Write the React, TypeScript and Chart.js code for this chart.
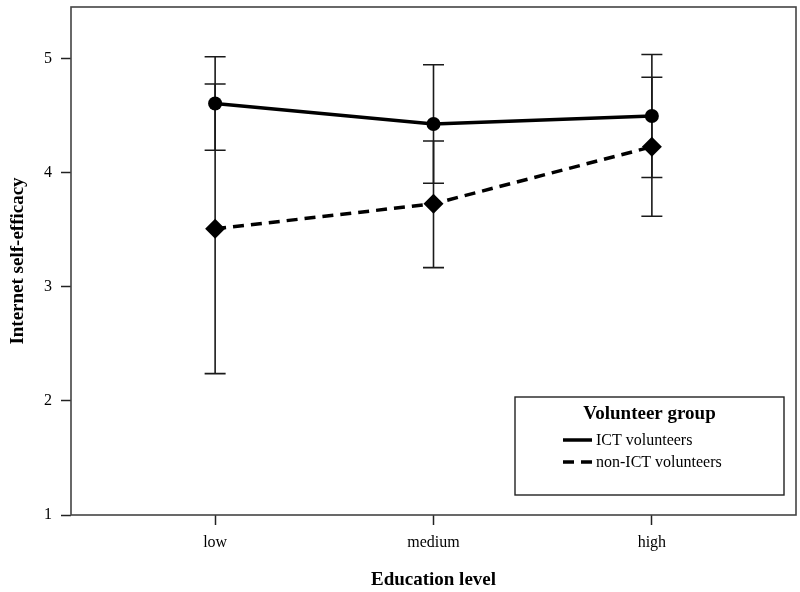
import React, { useEffect, useRef } from "react";
import { Chart, registerables } from "chart.js";

Chart.register(...registerables);

const CATEGORIES = ["low", "medium", "high"];
const CATEGORY_POS = [1, 2, 3];
const Y_TICKS = [1, 2, 3, 4, 5];

const SERIES_NAMES = ["ICT volunteers", "non-ICT volunteers"];
const ICT_MEAN = [4.61, 4.43, 4.5];
const ICT_LOW = [4.2, 3.91, 3.96];
const ICT_HIGH = [5.02, 4.95, 5.04];
const NON_MEAN = [3.51, 3.73, 4.23];
const NON_LOW = [2.24, 3.17, 3.62];
const NON_HIGH = [4.78, 4.28, 4.84];

const X_TITLE = "Education level";
const Y_TITLE = "Internet self-efficacy";
const LEGEND_TITLE = "Volunteer group";

const SERIF = '"Liberation Serif", "Times New Roman", serif';

export default function App() {
  const ref = useRef<HTMLCanvasElement | null>(null);

  useEffect(() => {
    if (!ref.current) return;

    const errorBars = {
      id: "errorBars",
      beforeDatasetsDraw(chart: any) {
        const { ctx, scales } = chart;
        const xs = scales.x;
        const ys = scales.y;
        const sets = [
          [ICT_LOW, ICT_HIGH],
          [NON_LOW, NON_HIGH],
        ];
        ctx.save();
        ctx.strokeStyle = "#1a1a1a";
        ctx.lineWidth = 1.6;
        sets.forEach(([lo, hi]) => {
          CATEGORY_POS.forEach((c, i) => {
            const x = xs.getPixelForValue(c);
            const y1 = ys.getPixelForValue(lo[i]);
            const y2 = ys.getPixelForValue(hi[i]);
            ctx.beginPath();
            ctx.moveTo(x, y1);
            ctx.lineTo(x, y2);
            ctx.moveTo(x - 10.5, y1);
            ctx.lineTo(x + 10.5, y1);
            ctx.moveTo(x - 10.5, y2);
            ctx.lineTo(x + 10.5, y2);
            ctx.stroke();
          });
        });
        ctx.restore();
      },
    };

    const frameLegend = {
      id: "frameLegend",
      afterDraw(chart: any) {
        const { ctx, chartArea } = chart;
        ctx.save();
        ctx.strokeStyle = "#444";
        ctx.lineWidth = 1.6;
        ctx.strokeRect(
          chartArea.left,
          chartArea.top,
          chartArea.right - chartArea.left,
          chartArea.bottom - chartArea.top
        );
        // legend box
        const bw = 269;
        const bh = 98;
        const bx = chartArea.right - 12 - bw;
        const by = chartArea.bottom - 20 - bh;
        ctx.fillStyle = "#fff";
        ctx.fillRect(bx, by, bw, bh);
        ctx.strokeStyle = "#222";
        ctx.lineWidth = 1.4;
        ctx.strokeRect(bx, by, bw, bh);
        ctx.fillStyle = "#000";
        ctx.textBaseline = "middle";
        ctx.textAlign = "center";
        ctx.font = `bold 19px ${SERIF}`;
        ctx.fillText(LEGEND_TITLE, bx + bw / 2, by + 17);
        ctx.textAlign = "left";
        ctx.font = `16px ${SERIF}`;
        const rows = [by + 43, by + 65];
        const dashes = [[], [11, 7]];
        SERIES_NAMES.forEach((name, i) => {
          ctx.beginPath();
          ctx.setLineDash(dashes[i]);
          ctx.lineWidth = 3.5;
          ctx.strokeStyle = "#000";
          ctx.moveTo(bx + 48, rows[i]);
          ctx.lineTo(bx + 77, rows[i]);
          ctx.stroke();
          ctx.setLineDash([]);
          ctx.fillText(name, bx + 81, rows[i] + 1);
        });
        ctx.restore();
      },
    };

    const chart = new Chart(ref.current, {
      type: "line",
      data: {
        datasets: [
          {
            label: SERIES_NAMES[0],
            data: CATEGORY_POS.map((x, i) => ({ x, y: ICT_MEAN[i] })),
            borderColor: "#000",
            backgroundColor: "#000",
            borderWidth: 3.5,
            pointStyle: "circle",
            pointRadius: 7,
            pointBackgroundColor: "#000",
            pointBorderColor: "#000",
            pointBorderWidth: 0,
            tension: 0,
          },
          {
            label: SERIES_NAMES[1],
            data: CATEGORY_POS.map((x, i) => ({ x, y: NON_MEAN[i] })),
            borderColor: "#000",
            backgroundColor: "#000",
            borderWidth: 3.5,
            borderDash: [11, 7],
            pointStyle: "rectRot",
            pointRadius: 10,
            pointBackgroundColor: "#000",
            pointBorderColor: "#000",
            pointBorderWidth: 0,
            tension: 0,
          },
        ],
      },
      options: {
        animation: false,
        responsive: false,
        devicePixelRatio: 1,
        layout: { padding: { top: 0, right: 0, left: 0, bottom: 0 } },
        plugins: {
          legend: { display: false },
          tooltip: { enabled: false },
        },
        scales: {
          x: {
            type: "linear",
            min: 0.34,
            max: 3.66,
            afterBuildTicks: (scale: any) => {
              scale.ticks = CATEGORY_POS.map((v) => ({ value: v }));
            },
            afterFit: (scale: any) => {
              scale.height = 77;
              scale.paddingLeft = 0;
              scale.paddingRight = 0;
            },
            ticks: {
              color: "#000",
              font: { family: SERIF, size: 16 },
              padding: 8,
              maxRotation: 0,
              callback: (v: any) => {
                const idx = CATEGORY_POS.indexOf(Number(v));
                return idx >= 0 ? CATEGORIES[idx] : "";
              },
            },
            grid: {
              display: true,
              drawOnChartArea: false,
              drawTicks: true,
              tickLength: 10,
              tickColor: "#222",
              tickWidth: 1.5,
            },
            border: { display: false },
            title: {
              display: true,
              text: X_TITLE,
              color: "#000",
              font: { family: SERIF, size: 19, weight: "bold" },
              padding: { top: 0, bottom: 1 },
            },
          },
          y: {
            type: "linear",
            min: 1,
            max: 5.456,
            afterBuildTicks: (scale: any) => {
              scale.ticks = Y_TICKS.map((v) => ({ value: v }));
            },
            afterFit: (scale: any) => {
              scale.width = 71;
              scale.paddingTop = 0;
              scale.paddingBottom = 0;
            },
            ticks: {
              color: "#000",
              font: { family: SERIF, size: 16 },
              padding: 9,
            },
            grid: {
              display: true,
              drawOnChartArea: false,
              drawTicks: true,
              tickLength: 10,
              tickColor: "#222",
              tickWidth: 1.5,
            },
            border: { display: false },
            title: {
              display: true,
              text: Y_TITLE,
              color: "#000",
              font: { family: SERIF, size: 19, weight: "bold" },
              padding: { top: 7, bottom: 0 },
            },
          },
        },
      },
      plugins: [errorBars, frameLegend],
    } as any);

    return () => chart.destroy();
  }, []);

  return (
    <div
      style={{
        position: "fixed",
        left: 0,
        top: 0,
        width: 800,
        height: 592,
        overflow: "hidden",
        background: "#fff",
      }}
    >
      <canvas
        ref={ref}
        width={806}
        height={595}
        style={{ position: "absolute", left: 0, top: -3 }}
      />
    </div>
  );
}
